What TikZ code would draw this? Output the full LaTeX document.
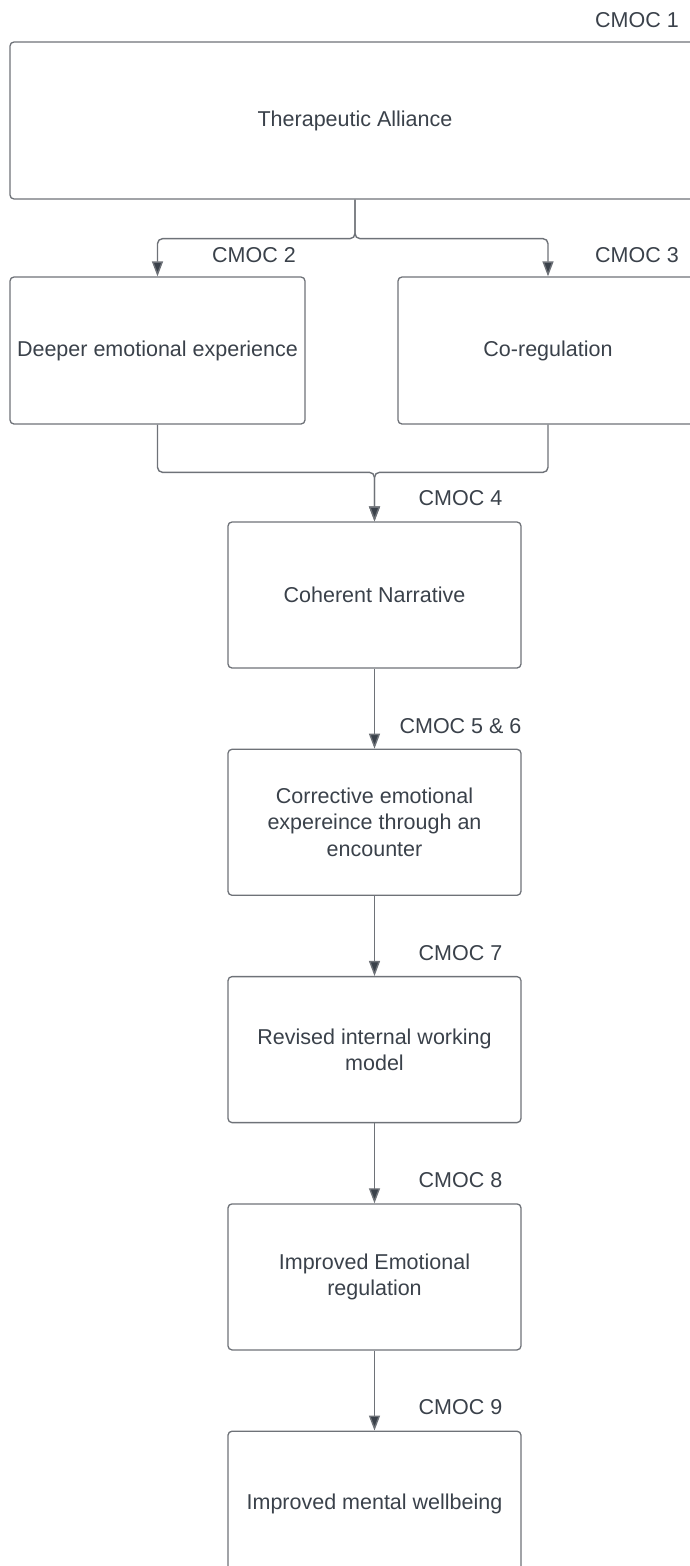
\documentclass[tikz,border=0pt]{standalone}
\usepackage{fontspec}
\setmainfont{Liberation Sans}
\usepackage{xcolor}
\usetikzlibrary{arrows.meta,positioning}

\definecolor{inkgray}{HTML}{3A414A}
\definecolor{linegray}{HTML}{6E7278}

\begin{document}
\begin{tikzpicture}[
    x=1pt, y=1pt,
    font=\fontsize{21.5}{26.5}\selectfont,
    box/.style={draw=linegray, line width=1.3pt, rectangle, rounded corners=4pt, minimum width=293pt, minimum height=146pt, inner sep=2pt, align=center, text=inkgray},
    tag/.style={text=inkgray, inner sep=0pt},
    arrow/.style={-{Triangle[length=15pt,width=11pt,fill=inkgray]}, draw=linegray, line width=1.4pt, rounded corners=5pt},
    node distance=80pt
]
\useasboundingbox (0,0) rectangle (689,-1566);

\node[box, minimum width=690pt, minimum height=157pt] (alliance) at (355,-120.5) {Therapeutic Alliance};
\node[box, minimum width=295pt, minimum height=147pt] (deeper) at (157.5,-350.5) {Deeper emotional experience};
\node[box, minimum width=300pt, minimum height=147pt] (coreg) at (548,-350.5) {Co-regulation};
\node[box] (coherent) at (374.5,-595) {Coherent Narrative};
\node[box, below=of coherent] (corrective) {Corrective emotional\\expereince through an\\encounter};
\node[box, below=of corrective] (revised) {Revised internal working\\model};
\node[box, below=of revised] (emoreg) {Improved Emotional\\regulation};
\node[box, below=of emoreg] (wellbeing) {Improved mental wellbeing};

% CMOC labels
\node[tag] (cmoc1) at (637,-20) {CMOC 1};
\node[tag] (cmoc2) at ([shift={(96.5,21)}]deeper.north) {CMOC 2};
\node[tag] (cmoc3) at ([shift={(89,21)}]coreg.north) {CMOC 3};
\node[tag] (cmoc4) at ([shift={(86,23)}]coherent.north) {CMOC 4};
\node[tag] (cmoc56) at ([shift={(86,23)}]corrective.north) {CMOC 5 \& 6};
\node[tag] (cmoc7) at ([shift={(86,23)}]revised.north) {CMOC 7};
\node[tag] (cmoc8) at ([shift={(86,23)}]emoreg.north) {CMOC 8};
\node[tag] (cmoc9) at ([shift={(86,23)}]wellbeing.north) {CMOC 9};

% connectors
\coordinate[above=49pt of coherent.north] (merge);
\draw[arrow] (alliance.south) -- ++(0,-39) -| (deeper.north);
\draw[arrow] (alliance.south) -- ++(0,-39) -| (coreg.north);
\draw[arrow] (deeper.south) |- (merge) -- (coherent.north);
\draw[arrow] (coreg.south) |- (merge) -- (coherent.north);
\draw[arrow] (coherent) -- (corrective);
\draw[arrow] (corrective) -- (revised);
\draw[arrow] (revised) -- (emoreg);
\draw[arrow] (emoreg) -- (wellbeing);

\end{tikzpicture}
\end{document}
